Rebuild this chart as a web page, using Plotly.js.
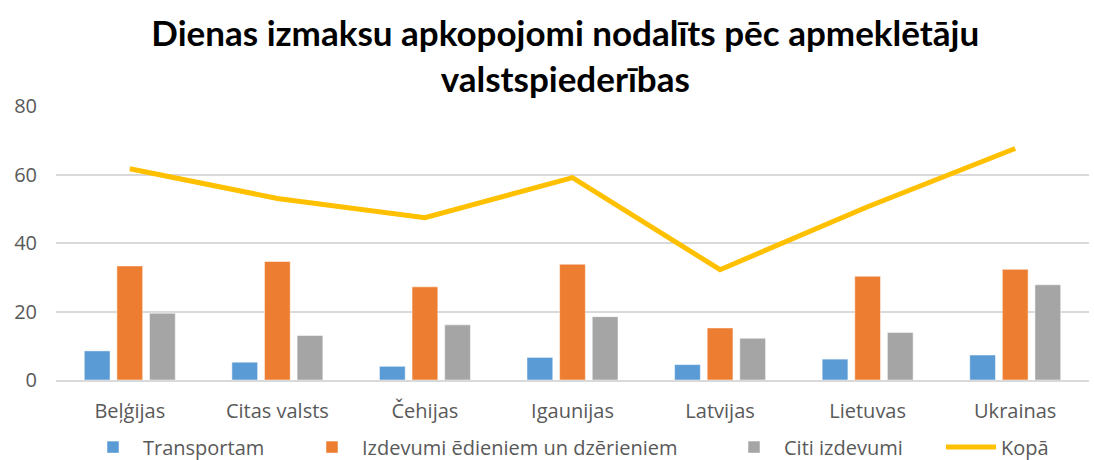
<!DOCTYPE html>
<html>
<head>
<meta charset="utf-8">
<script src="https://cdn.plot.ly/plotly-3.0.1.min.js"></script>
<style>html,body{margin:0;padding:0;background:#fff;}#chart{width:1094px;height:460px;}</style>
</head>
<body>
<div id="chart"></div>
<script>
const categories = ["Beļģijas", "Citas valsts", "Čehijas", "Igaunijas", "Latvijas", "Lietuvas", "Ukrainas"];
const transportam = [8.5, 5.2, 4.0, 6.6, 4.5, 6.1, 7.3];
const edieniem = [33.3, 34.6, 27.2, 33.8, 15.2, 30.3, 32.3];
const citi = [19.5, 13.0, 16.1, 18.5, 12.2, 13.9, 27.8];
const kopa = [61.7, 53.0, 47.4, 59.1, 32.2, 50.6, 67.6];
const seriesNames = ["Transportam", "Izdevumi ēdieniem un dzērieniem", "Citi izdevumi", "Kopā"];
const titleText = "Dienas izmaksu apkopojomi nodalīts pēc apmeklētāju<br>valstspiederības";

const TFONT = "Lato, 'Open Sans', 'Liberation Sans', sans-serif";
const FONT = "'Open Sans', Lato, 'Liberation Sans', sans-serif";

const traces = [
  {type: "bar", name: seriesNames[0], legend: "legend", x: categories, y: transportam, marker: {color: "#5B9BD5", line: {color: "#FFFFFF", width: 0.5}}},
  {type: "bar", name: seriesNames[1], legend: "legend2", x: categories, y: edieniem, marker: {color: "#ED7D31", line: {color: "#FFFFFF", width: 0.5}}},
  {type: "bar", name: seriesNames[2], legend: "legend3", x: categories, y: citi, marker: {color: "#A5A5A5", line: {color: "#FFFFFF", width: 0.5}}},
  {type: "scatter", mode: "lines", name: seriesNames[3], legend: "legend4", x: categories, y: kopa, line: {color: "#FFC000", width: 5}}
];

function leg(xpx) {
  return {orientation: "h", x: xpx / 1094, xanchor: "left", xref: "container", yref: "container", y: 0.028, yanchor: "middle",
          font: {family: FONT, size: 20, color: "#595959"}, itemwidth: 50, bgcolor: "rgba(0,0,0,0)"};
}

const layout = {
  width: 1094, height: 460,
  margin: {l: 56, r: 5, t: 106, b: 80, autoexpand: false},
  paper_bgcolor: "#FFFFFF", plot_bgcolor: "#FFFFFF",
  font: {family: FONT, color: "#595959", size: 20},
  title: {text: titleText, font: {family: TFONT, size: 35, color: "#000000", weight: "bold"}, x: 0.493, xanchor: "center", xref: "paper", yref: "container", y: 0.9, yanchor: "middle"},
  barmode: "group", bargap: 0.337, bargroupgap: 0.21,
  xaxis: {showgrid: false, showline: true, linecolor: "#D9D9D9", linewidth: 1.5, ticks: "", ticklabelstandoff: 12, tickfont: {family: FONT, size: 20, color: "#595959"}},
  yaxis: {range: [0, 80], dtick: 20, showgrid: true, gridcolor: "#D9D9D9", gridwidth: 1.5, zeroline: false, showline: false, ticks: "", ticklabelstandoff: 18, tickfont: {family: FONT, size: 20, color: "#595959"}},
  legend: leg(83),
  legend2: leg(302),
  legend3: leg(724),
  legend4: leg(941),
  showlegend: true
};

Plotly.newPlot("chart", traces, layout, {displayModeBar: false, responsive: false});
</script>
</body>
</html>
